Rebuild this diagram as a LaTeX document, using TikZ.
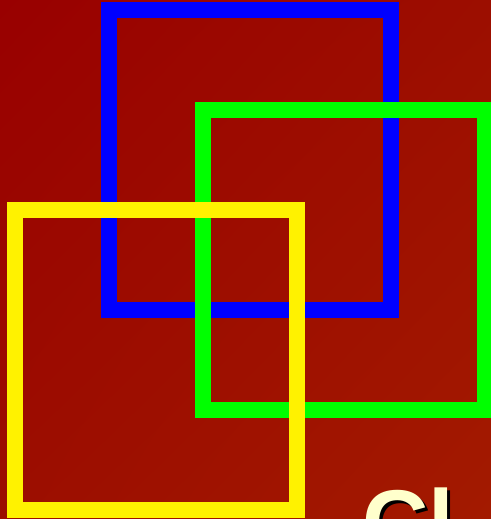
\documentclass[tikz,border=0pt]{standalone}
\usepackage{fontspec}
\setmainfont{Liberation Sans}
\usepackage{xcolor}
\usepackage{tikz}
\usetikzlibrary{shadings}

\definecolor{bgdark}{HTML}{990000}
\definecolor{bgmid}{HTML}{9C0E00}
\definecolor{bglight}{HTML}{A31A00}
\definecolor{cream}{HTML}{FFFFCC}

\begin{document}
\begin{tikzpicture}[
  x=0.5pt, y=-0.5pt,
  frame/.style={line width=8pt},
  title/.style={font=\bfseries\fontsize{46}{46}\selectfont, inner sep=0pt, anchor=base west}
]
  \useasboundingbox (0,0) rectangle (491,519);
  \clip (0,0) rectangle (491,519);
  \shade[upper left=bgdark, upper right=bgmid, lower left=bgmid, lower right=bglight]
    (0,0) rectangle (491,519);
  \draw[frame, blue] (109,10) rectangle (391,309.5);
  \draw[frame, green] (203,110) rectangle (485,409.5);
  \draw[frame, yellow] (15,210) rectangle (297,509.5);
  \node[title, text=black] (titleshadow) at (365,557) {Cl};
  \node[title, text=cream] (title) at (362,554) {Cl};
\end{tikzpicture}
\end{document}
